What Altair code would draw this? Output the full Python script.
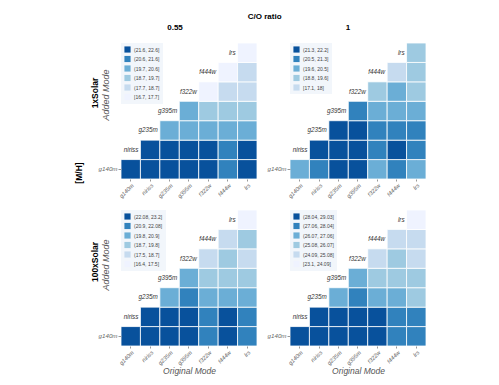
import altair as alt
import pandas as pd

# ---------------- data ----------------
modes = ["g140m", "niriss", "g235m", "g395m", "f322w", "f444w", "lrs"]
co_ratios = ["0.55", "1"]
metallicities = ["1xSolar", "100xSolar"]

blues = ["#08519c", "#3182bd", "#6baed6", "#9ecae1", "#c6dbef", "#eff3ff"]

bins_1x_055 = ["(21.6, 22.6]", "(20.6, 21.6]", "(19.7, 20.6]", "(18.7, 19.7]", "(17.7, 18.7]", "[16.7, 17.7]"]
bins_1x_1 = ["(21.3, 22.2]", "(20.5, 21.3]", "(19.6, 20.5]", "(18.8, 19.6]", "[17.1, 18]"]
bins_100x_055 = ["(22.08, 23.2]", "(20.9, 22.08]", "(19.8, 20.9]", "(18.7, 19.8]", "(17.5, 18.7]", "[16.4, 17.5]"]
bins_100x_1 = ["(28.04, 29.03]", "(27.06, 28.04]", "(26.07, 27.06]", "(25.08, 26.07]", "(24.09, 25.08]", "[23.1, 24.09]"]

# bin index per cell (0 = highest bin); row r = added mode r, entries = original modes r..lrs
cls_1x_055 = [[0, 0, 0, 0, 0, 1, 0], [0, 0, 0, 0, 1, 0], [2, 2, 2, 2, 2], [2, 3, 3, 3], [5, 4, 4], [5, 4], [5]]
cls_1x_1 = [[2, 1, 0, 0, 2, 1, 2], [0, 0, 0, 1, 0, 1], [0, 0, 1, 1, 1], [1, 2, 2, 2], [3, 2, 3], [4, 3], [3]]
cls_100x_055 = [[0, 0, 0, 0, 1, 0, 1], [0, 0, 0, 1, 0, 1], [2, 1, 2, 2, 2], [2, 3, 3, 3], [4, 3, 4], [4, 3], [5]]
cls_100x_1 = [[0, 0, 0, 0, 0, 1, 1], [0, 0, 0, 0, 1, 1], [2, 1, 2, 2, 3], [2, 3, 3, 3], [4, 3, 4], [4, 4], [5]]

FONT = "Liberation Sans"
W = 136


def text_layer(label, x, y, size, weight="normal", style="normal", color="#000", opacity=1.0):
    return alt.Chart(pd.DataFrame({"t": [label]})).mark_text(
        angle=270, fontSize=size, fontWeight=weight, fontStyle=style, color=color,
        font=FONT, opacity=opacity
    ).encode(text="t:N", x=alt.value(x), y=alt.value(y))


def panel(bins, cls, title=None, xtitle=None, extras=()):
    rows = []
    for r, row in enumerate(cls):
        for k, idx in enumerate(row):
            rows.append({"original": modes[r + k], "added": modes[r], "bin": bins[idx]})
    cells = pd.DataFrame(rows)
    labels = pd.DataFrame({"original": modes[:-1], "added": modes[1:], "name": modes[1:]})

    xaxis = alt.Axis(labelAngle=-45, labelFontStyle="italic", labelColor="#666", labelFontSize=5.8,
                     labelFont=FONT, domain=False, ticks=True, tickSize=2, tickColor="#999",
                     labelPadding=1, title=xtitle if xtitle else None,
                     titleFontStyle="italic", titleFontWeight="normal", titleColor="#555",
                     titleFontSize=8.5, titleFont=FONT, titlePadding=1)
    yaxis = alt.Axis(values=["g140m"], labelFontStyle="italic", labelColor="#666", labelFontSize=6.2,
                     labelFont=FONT, domain=False, tickSize=3, tickColor="#999", labelPadding=1,
                     title=None)
    xscale = alt.Scale(domain=modes, paddingInner=0, paddingOuter=0)
    yscale = alt.Scale(domain=modes[::-1], paddingInner=0, paddingOuter=0)

    rect = alt.Chart(cells).mark_rect(stroke="white", strokeWidth=0.8).encode(
        x=alt.X("original:N", scale=xscale, axis=xaxis),
        y=alt.Y("added:N", scale=yscale, axis=yaxis),
        color=alt.Color("bin:N", scale=alt.Scale(domain=bins, range=blues[:len(bins)]),
                        legend=alt.Legend(title=None, orient="top-left", offset=0, padding=3,
                                          fillColor="#f2f6fb", symbolType="square", symbolSize=38,
                                          symbolStrokeWidth=0, labelFontSize=5, labelFont=FONT,
                                          labelColor="#444", rowPadding=2.5, labelOffset=3)),
    )
    txt = alt.Chart(labels).mark_text(align="right", dx=-2, fontSize=6.3, fontStyle="italic",
                                      color="#333", font=FONT).encode(
        x=alt.X("original:N", scale=xscale, axis=xaxis, bandPosition=1),
        y=alt.Y("added:N", scale=yscale, axis=yaxis),
        text="name:N",
    )
    layers = [rect, txt] + list(extras)
    ch = alt.layer(*layers).properties(width=W, height=W)
    if title is not None:
        ch = ch.properties(title=title)
    return ch


p1 = panel(bins_1x_055, cls_1x_055,
           title=alt.Title(co_ratios[0], fontSize=8, fontWeight="bold", font=FONT, anchor="middle",
                           offset=11, dx=-14),
           extras=[text_layer(metallicities[0], -26, 50, 8.5, weight="bold"),
                   text_layer("Added Mode", -15, 52, 9, style="italic", color="#555"),
                   text_layer("[M/H]", -42, 130, 8.5, weight="bold")])
p2 = panel(bins_1x_1, cls_1x_1,
           title=alt.Title(co_ratios[1], fontSize=8, fontWeight="bold", font=FONT, anchor="middle",
                           offset=11, dx=-10))
p3 = panel(bins_100x_055, cls_100x_055, xtitle="Original Mode",
           extras=[text_layer(metallicities[1], -26, 52, 8.5, weight="bold"),
                   text_layer("Added Mode", -15, 55, 9, style="italic", color="#555"),
                   text_layer("[M/H]", -42, 60, 8.5, weight="bold", opacity=0)])
p4 = panel(bins_100x_1, cls_100x_1, xtitle="Original Mode")

row1 = alt.hconcat(p1, p2, spacing=9).resolve_scale(color="independent")
row2 = alt.hconcat(p3, p4, spacing=9).resolve_scale(color="independent")

chart = alt.vconcat(row1, row2, spacing=10,
                    title=alt.Title("C/O ratio", fontSize=8, fontWeight="bold", font=FONT,
                                    anchor="middle", offset=3, dx=14)
                    ).resolve_scale(color="independent").properties(
    padding={"left": 67, "top": 4, "right": 5, "bottom": 5}
).configure_view(stroke=None)

chart.save("out.html", embed_options={"renderer": "svg", "actions": False})
